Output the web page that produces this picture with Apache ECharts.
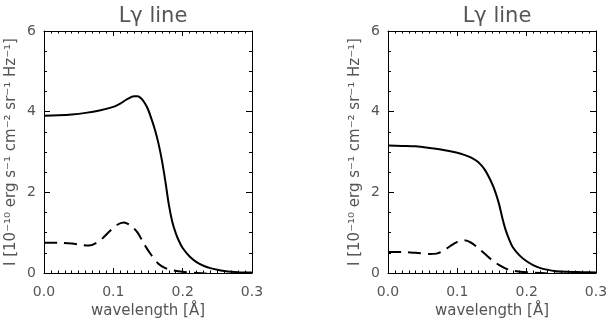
<!DOCTYPE html>
<html>
<head>
<meta charset="utf-8">
<script src="https://cdn.jsdelivr.net/npm/echarts@6/dist/echarts.min.js"></script>
<style>
  html, body { margin: 0; padding: 0; background: #fff; }
  #main { width: 608px; height: 323px; }
</style>
</head>
<body>
<div id="main"></div>
<script>
// wavelength (Angstrom) samples and intensities
const leftSolidX = [0, 0.02, 0.04, 0.06, 0.08, 0.10, 0.11, 0.12, 0.13, 0.135, 0.14, 0.145, 0.15, 0.155, 0.16, 0.165, 0.17, 0.175, 0.18, 0.185, 0.19, 0.195, 0.20, 0.21, 0.22, 0.23, 0.24, 0.25, 0.26, 0.27, 0.28, 0.30];
const leftSolidY = [3.90, 3.91, 3.93, 3.97, 4.03, 4.12, 4.20, 4.31, 4.38, 4.38, 4.33, 4.22, 4.06, 3.82, 3.55, 3.22, 2.80, 2.28, 1.70, 1.27, 0.99, 0.78, 0.62, 0.41, 0.27, 0.18, 0.12, 0.08, 0.05, 0.03, 0.02, 0.01];

const leftDashX = [0, 0.02, 0.04, 0.055, 0.065, 0.075, 0.085, 0.095, 0.105, 0.115, 0.125, 0.135, 0.145, 0.155, 0.165, 0.175, 0.185, 0.20, 0.22, 0.24, 0.26, 0.28, 0.30];
const leftDashY = [0.75, 0.75, 0.73, 0.69, 0.68, 0.74, 0.87, 1.04, 1.19, 1.25, 1.18, 1.00, 0.70, 0.44, 0.23, 0.12, 0.07, 0.03, 0.00, -0.02, -0.03, -0.02, -0.01];

const rightSolidX = [0, 0.02, 0.04, 0.06, 0.08, 0.10, 0.11, 0.12, 0.13, 0.14, 0.15, 0.155, 0.16, 0.165, 0.17, 0.175, 0.18, 0.19, 0.20, 0.21, 0.22, 0.23, 0.24, 0.26, 0.28, 0.30];
const rightSolidY = [3.16, 3.15, 3.14, 3.10, 3.05, 2.98, 2.93, 2.86, 2.75, 2.55, 2.22, 2.00, 1.72, 1.36, 1.05, 0.82, 0.64, 0.43, 0.29, 0.19, 0.12, 0.08, 0.05, 0.03, 0.02, 0.01];

const rightDashX = [0, 0.02, 0.04, 0.06, 0.07, 0.08, 0.09, 0.10, 0.11, 0.12, 0.13, 0.14, 0.15, 0.16, 0.17, 0.18, 0.20, 0.22, 0.24, 0.27, 0.30];
const rightDashY = [0.52, 0.52, 0.50, 0.47, 0.48, 0.55, 0.67, 0.77, 0.81, 0.75, 0.62, 0.47, 0.32, 0.20, 0.11, 0.06, 0.02, 0.00, -0.02, -0.02, -0.01];

const panelTitles = ['L\u03b3 line', 'L\u03b3 line'];
const yName = 'I [10\u207b\u00b9\u2070 erg s\u207b\u00b9 cm\u207b\u00b2 sr\u207b\u00b9 Hz\u207b\u00b9]';
const xName = 'wavelength [\u00c5]';

const textColor = '#555';
const font = 'DejaVu Sans';

const zip = (xs, ys) => xs.map((x, i) => [x, ys[i]]);

const grids = [
  { left: 44, top: 31, width: 208, height: 242, outerBoundsMode: 'none', containLabel: false },
  { left: 388, top: 31, width: 208, height: 242, outerBoundsMode: 'none', containLabel: false },
];

function xAxes(gi) {
  const base = {
    gridIndex: gi, type: 'value', min: 0, max: 0.3, interval: 0.1,
    axisLine: { show: true, onZero: false, lineStyle: { color: '#000', width: 1 } },
    axisTick: { show: true, inside: true, length: 5, lineStyle: { color: '#000' } },
    minorTick: { show: true, splitNumber: 10, length: 2.5, lineStyle: { color: '#000' } },
    splitLine: { show: false },
  };
  return [
    Object.assign({}, base, {
      position: 'bottom',
      name: xName, nameLocation: 'middle', nameGap: 31,
      nameTextStyle: { color: textColor, fontSize: 15, fontFamily: font },
      axisLabel: { color: textColor, fontSize: 14, fontFamily: font, margin: 12, formatter: (v) => v.toFixed(1) },
    }),
    Object.assign({}, base, { position: 'top', axisLabel: { show: false } }),
  ];
}

function yAxes(gi) {
  const base = {
    gridIndex: gi, type: 'value', min: 0, max: 6, interval: 2,
    axisLine: { show: true, onZero: false, lineStyle: { color: '#000', width: 1 } },
    axisTick: { show: true, inside: true, length: 6, lineStyle: { color: '#000' } },
    minorTick: { show: true, splitNumber: 4, length: 3, lineStyle: { color: '#000' } },
    splitLine: { show: false },
  };
  return [
    Object.assign({}, base, {
      position: 'left',
      name: yName, nameLocation: 'middle', nameGap: 25, nameRotate: 90,
      nameTextStyle: { color: textColor, fontSize: 15, fontFamily: font },
      axisLabel: { color: textColor, fontSize: 14, fontFamily: font, margin: 8 },
    }),
    Object.assign({}, base, { position: 'right', axisLabel: { show: false } }),
  ];
}

function lineSeries(xi, yi, data, dashed) {
  return {
    type: 'line', xAxisIndex: xi, yAxisIndex: yi, data: data,
    smooth: 0.3, symbol: 'none', silent: true,
    lineStyle: { color: '#000', width: 2, type: dashed ? [13, 7] : 'solid' },
  };
}

const myChart = echarts.init(document.getElementById('main'));
myChart.setOption({
  animation: false,
  backgroundColor: '#fff',
  title: [
    { text: panelTitles[0], left: 148, top: 1, textAlign: 'center',
      textStyle: { color: textColor, fontSize: 21, fontWeight: 'normal', fontFamily: font } },
    { text: panelTitles[1], left: 492, top: 1, textAlign: 'center',
      textStyle: { color: textColor, fontSize: 21, fontWeight: 'normal', fontFamily: font } },
  ],
  grid: grids,
  xAxis: xAxes(0).concat(xAxes(1)),
  yAxis: yAxes(0).concat(yAxes(1)),
  series: [
    lineSeries(0, 0, zip(leftSolidX, leftSolidY), false),
    lineSeries(0, 0, zip(leftDashX, leftDashY), true),
    lineSeries(2, 2, zip(rightSolidX, rightSolidY), false),
    lineSeries(2, 2, zip(rightDashX, rightDashY), true),
  ],
});
</script>
</body>
</html>
